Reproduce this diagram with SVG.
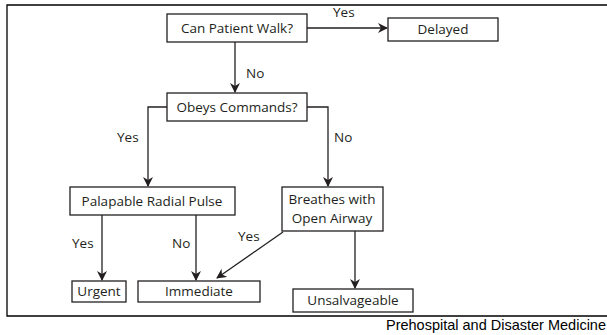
<svg xmlns="http://www.w3.org/2000/svg" width="607" height="335" viewBox="0 0 607 335">
<defs>
<marker id="ah" markerWidth="10" markerHeight="10" refX="9" refY="5" orient="auto" markerUnits="userSpaceOnUse">
<path d="M0,0 L10,5 L0,10 L3,5 Z" fill="#231f20"/>
</marker>
</defs>
<style>
.box{fill:#fff;stroke:#231f20;stroke-width:1.3}
.t{font-family:"Open Sans","Noto Sans",sans-serif;font-size:13.5px;fill:#231f20;text-anchor:middle}
.l{font-family:"Open Sans","Noto Sans",sans-serif;font-size:13.5px;fill:#231f20}
.c{fill:none;stroke:#231f20;stroke-width:1.3}
.frame{fill:none;stroke:#000;stroke-width:1.3}
</style>
<rect width="607" height="335" fill="#fff"/>
<path class="frame" d="M607,5 H7 V316 H607"/>
<g id="connectors">
<path class="c" d="M307,28 H387" marker-end="url(#ah)"/>
<path class="c" d="M235,42 V92" marker-end="url(#ah)"/>
<path class="c" d="M167,107 H148 V186" marker-end="url(#ah)"/>
<path class="c" d="M307,107 H328 V186" marker-end="url(#ah)"/>
<path class="c" d="M102,215 V280" marker-end="url(#ah)"/>
<path class="c" d="M196,215 V280" marker-end="url(#ah)"/>
<path class="c" d="M283,232 L217,278" marker-end="url(#ah)"/>
<path class="c" d="M355,231 V288" marker-end="url(#ah)"/>
<text class="l" x="333" y="17">Yes</text>
<text class="l" x="246" y="78">No</text>
<text class="l" x="117" y="142">Yes</text>
<text class="l" x="334" y="142">No</text>
<text class="l" x="72" y="248">Yes</text>
<text class="l" x="172" y="248">No</text>
<text class="l" x="238" y="241">Yes</text>
</g>
<g id="walk"><rect class="box" x="167" y="14" width="140" height="28"/><text class="t" x="237" y="33">Can Patient Walk?</text></g>
<g id="delayed"><rect class="box" x="388" y="18" width="110" height="23"/><text class="t" x="443" y="34">Delayed</text></g>
<g id="obeys"><rect class="box" x="167" y="93" width="140" height="28"/><text class="t" x="237" y="112">Obeys Commands?</text></g>
<g id="pulse"><rect class="box" x="70" y="187" width="165" height="28"/><text class="t" x="152" y="206">Palapable Radial Pulse</text></g>
<g id="breathes"><rect class="box" x="282" y="187" width="101" height="44"/><text class="t" x="332" y="204">Breathes with</text><text class="t" x="332" y="223">Open Airway</text></g>
<g id="urgent"><rect class="box" x="72" y="281" width="54" height="21"/><text class="t" x="99" y="296">Urgent</text></g>
<g id="immediate"><rect class="box" x="138" y="281" width="122" height="21"/><text class="t" x="199" y="296">Immediate</text></g>
<g id="unsalvageable"><rect class="box" x="293" y="289" width="120" height="23"/><text class="t" x="353" y="305">Unsalvageable</text></g>
<text x="606" y="330" text-anchor="end" style="font-family:'Liberation Sans',Arial,sans-serif;font-size:14.5px;fill:#000">Prehospital and Disaster Medicine</text>
</svg>
